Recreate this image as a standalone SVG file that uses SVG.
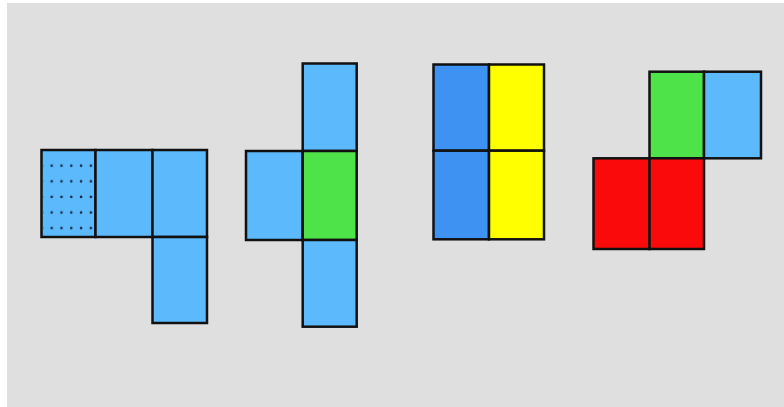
<svg xmlns="http://www.w3.org/2000/svg" width="784" height="407" viewBox="0 0 784 407">
<style>
.c{stroke:#111;stroke-width:2.5}
.lb{fill:#5cb9fb}
.bl{fill:#3d92f2}
.gr{fill:#4fe34a}
.ye{fill:#ffff00}
.rd{fill:#fa0a0a}
.dot{fill:#1a2a4a}
</style>
<defs>
<pattern id="dots" x="46.7" y="158" width="9.8" height="15.6" patternUnits="userSpaceOnUse">
<circle cx="5" cy="7.7" r="1.3" class="dot"/>
</pattern>
</defs>
<rect width="784" height="407" fill="#ffffff"/>
<rect x="7" y="3" width="777" height="404" fill="#dfdfdf"/>
<g id="net1">
<rect class="c lb" x="41.5" y="150" width="54" height="87"/>
<rect x="43" y="158" width="51" height="78" fill="url(#dots)"/>
<rect class="c lb" x="95.5" y="150" width="57" height="87"/>
<rect class="c lb" x="152.5" y="150" width="54.5" height="87"/>
<rect class="c lb" x="152.5" y="237" width="54.5" height="86"/>
</g>
<g id="net2">
<rect class="c lb" x="302.7" y="63.5" width="54" height="87.5"/>
<rect class="c lb" x="246" y="151" width="56.7" height="89"/>
<rect class="c gr" x="302.7" y="151" width="54" height="89"/>
<rect class="c lb" x="302.7" y="240" width="54" height="86.7"/>
</g>
<g id="net3">
<rect class="c bl" x="433.5" y="64.5" width="55.5" height="86.2"/>
<rect class="c ye" x="489" y="64.5" width="55" height="86.2"/>
<rect class="c bl" x="433.5" y="150.7" width="55.5" height="88.6"/>
<rect class="c ye" x="489" y="150.7" width="55" height="88.6"/>
</g>
<g id="net4">
<rect class="c gr" x="649.5" y="71.7" width="54.5" height="86.6"/>
<rect class="c lb" x="704" y="71.7" width="57" height="86.6"/>
<rect class="c rd" x="593.5" y="158.3" width="56" height="90.7"/>
<rect class="c rd" x="649.5" y="158.3" width="54.5" height="90.7"/>
</g>
</svg>
